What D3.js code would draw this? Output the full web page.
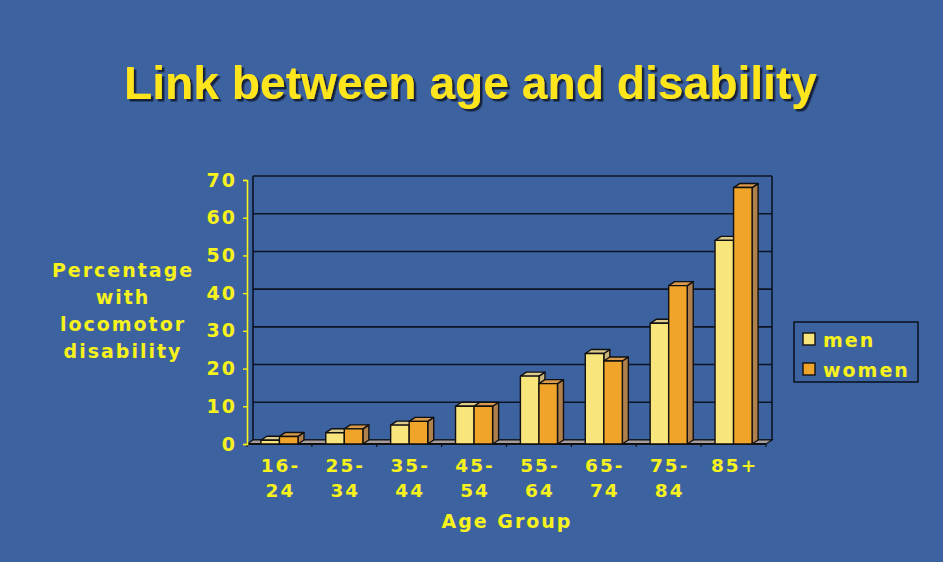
<!DOCTYPE html>
<html>
<head>
<meta charset="utf-8">
<script src="https://cdn.jsdelivr.net/npm/d3@7/dist/d3.min.js"></script>
<style>
  html, body { margin: 0; padding: 0; background: #3d62a0; }
  svg { display: block; }
</style>
</head>
<body>
<svg id="chart" width="943" height="562"></svg>
<script>
// Age groups (label lines) and disability percentages per sex
const categories = ["16-24", "25-34", "35-44", "45-54", "55-64", "65-74", "75-84", "85+"];
const categoryLines = [["16-", "24"], ["25-", "34"], ["35-", "44"], ["45-", "54"], ["55-", "64"], ["65-", "74"], ["75-", "84"], ["85+"]];
const seriesNames = ["men", "women"];
const men = [1, 3, 5, 10, 18, 24, 32, 54];
const women = [2, 4, 6, 10, 16, 22, 42, 68];
const yTicks = [0, 10, 20, 30, 40, 50, 60, 70];

const BG = "#3d62a0";
const LABEL = "#f7f21b";
const TITLE = "#ffe61c";
const FONT = "'DejaVu Sans', Verdana, sans-serif";
const colors = {
  men:   { front: "#f8e57c", top: "#dccb8a", side: "#c9b577" },
  women: { front: "#f0a42a", top: "#d99a4c", side: "#b0804c" }
};

// 3D depth offset of walls, floor and bars
const DX = 6, DY = 4;

const svg = d3.select("#chart");
svg.append("rect").attr("width", 943).attr("height", 562).attr("fill", BG);

// Hard drop shadow for the title
const defs = svg.append("defs");
defs.append("filter").attr("id", "titleShadow")
  .attr("x", "-5%").attr("y", "-20%").attr("width", "110%").attr("height", "140%")
  .append("feDropShadow")
  .attr("dx", 2.5).attr("dy", 2.5).attr("stdDeviation", 0.4)
  .attr("flood-color", "#15203a").attr("flood-opacity", 1);

const x = d3.scaleBand().domain(categories).range([247, 766]).paddingInner(0).paddingOuter(0);
const xs = d3.scaleBand().domain(seriesNames).range([0, x.bandwidth()]).paddingInner(0).paddingOuter(0.75);
const y = d3.scaleLinear().domain([0, 70]).range([444, 180]);

// Title
svg.append("text")
  .attr("x", 470.5).attr("y", 99)
  .attr("text-anchor", "middle")
  .attr("font-family", "'Liberation Sans', Arial, sans-serif")
  .attr("font-weight", "bold")
  .attr("font-size", 46)
  .attr("textLength", 693)
  .attr("lengthAdjust", "spacingAndGlyphs")
  .attr("fill", TITLE)
  .attr("filter", "url(#titleShadow)")
  .text("Link between age and disability");

// Back wall: gridlines and side edges
const wall = svg.append("g").attr("stroke", "#0d1424").attr("stroke-width", 1.6);
wall.selectAll("line.grid").data(yTicks).join("line")
  .attr("class", "grid")
  .attr("x1", x.range()[0] + DX).attr("x2", x.range()[1] + DX)
  .attr("y1", d => y(d) - DY).attr("y2", d => y(d) - DY);
[x.range()[0] + DX, x.range()[1] + DX].forEach(xx => {
  wall.append("line").attr("x1", xx).attr("x2", xx)
    .attr("y1", y(70) - DY).attr("y2", y(0) - DY);
});

// Floor
const x0 = x.range()[0], x1 = x.range()[1], y0 = y(0);
svg.append("path")
  .attr("d", `M${x0},${y0}L${x0 + DX},${y0 - DY}L${x1 + DX},${y0 - DY}L${x1},${y0}Z`)
  .attr("fill", "#a69e9e").attr("stroke", "#111").attr("stroke-width", 1.2);
svg.append("line").attr("x1", x0).attr("x2", x1).attr("y1", y0).attr("y2", y0)
  .attr("stroke", "#111").attr("stroke-width", 1.8);
svg.selectAll("line.ctick").data(d3.range(categories.length + 1)).join("line")
  .attr("class", "ctick")
  .attr("x1", i => x0 + i * x.step()).attr("x2", i => x0 + i * x.step())
  .attr("y1", y0).attr("y2", y0 + 3)
  .attr("stroke", "#111").attr("stroke-width", 1.2);

// 3D bars
function bar(g, bx, w, v, c) {
  const yt = y(v), yb = y(0);
  g.append("path")
    .attr("d", `M${bx + w},${yt}L${bx + w + DX},${yt - DY}L${bx + w + DX},${yb - DY}L${bx + w},${yb}Z`)
    .attr("fill", c.side);
  g.append("path")
    .attr("d", `M${bx},${yt}L${bx + DX},${yt - DY}L${bx + w + DX},${yt - DY}L${bx + w},${yt}Z`)
    .attr("fill", c.top);
  g.append("rect")
    .attr("x", bx).attr("y", yt).attr("width", w).attr("height", yb - yt)
    .attr("fill", c.front);
}
const bars = svg.append("g").attr("stroke", "#111").attr("stroke-width", 1.4).attr("stroke-linejoin", "round");
categories.forEach((cat, i) => {
  const g = bars.append("g");
  bar(g, x(cat) + xs("men"), xs.bandwidth(), men[i], colors.men);
  bar(g, x(cat) + xs("women"), xs.bandwidth(), women[i], colors.women);
});

// Front value axis
const yAxis = d3.axisLeft(y).tickValues(yTicks).tickSize(4).tickPadding(6).tickFormat(d3.format("d"));
const ag = svg.append("g").attr("transform", `translate(${x0},0)`).call(yAxis);
ag.select(".domain").attr("stroke", LABEL).attr("stroke-width", 1.6);
ag.selectAll(".tick line").attr("stroke", LABEL).attr("stroke-width", 1.4);
ag.selectAll(".tick text")
  .attr("fill", LABEL).attr("font-family", FONT).attr("font-weight", "bold")
  .attr("font-size", 19).attr("letter-spacing", 2);

// Category labels
const cl = svg.append("g").attr("fill", LABEL).attr("font-family", FONT)
  .attr("font-weight", "bold").attr("font-size", 18.5).attr("letter-spacing", 2)
  .attr("text-anchor", "middle");
categories.forEach((cat, i) => {
  const t = cl.append("text").attr("x", x(cat) + x.bandwidth() / 2 + 1).attr("y", 472);
  categoryLines[i].forEach((line, j) => {
    t.append("tspan").attr("x", x(cat) + x.bandwidth() / 2 + 1).attr("y", 472 + j * 25).text(line);
  });
});

// Axis titles
const axisTitle = { fill: LABEL, "font-family": FONT, "font-weight": "bold", "font-size": 19, "letter-spacing": 2, "text-anchor": "middle" };
const xt = svg.append("text").attr("x", 507).attr("y", 528).text("Age Group");
Object.entries(axisTitle).forEach(([k, v]) => xt.attr(k, v));
const yt = svg.append("text");
Object.entries(axisTitle).forEach(([k, v]) => yt.attr(k, v));
["Percentage", "with", "locomotor", "disability"].forEach((line, j) => {
  yt.append("tspan").attr("x", 123).attr("y", 277 + j * 27).text(line);
});

// Legend
const lg = svg.append("g");
lg.append("rect").attr("x", 794).attr("y", 322).attr("width", 124).attr("height", 60)
  .attr("fill", "none").attr("stroke", "#0d1424").attr("stroke-width", 1.6);
seriesNames.forEach((name, i) => {
  const ly = 333 + i * 30;
  lg.append("rect").attr("x", 803).attr("y", ly).attr("width", 12).attr("height", 12)
    .attr("fill", colors[name].front).attr("stroke", "#111").attr("stroke-width", 1.4);
  lg.append("text").attr("x", 823).attr("y", ly + 13.5)
    .attr("fill", LABEL).attr("font-family", FONT).attr("font-weight", "bold")
    .attr("font-size", 19).attr("letter-spacing", 2)
    .text(name);
});
</script>
</body>
</html>
